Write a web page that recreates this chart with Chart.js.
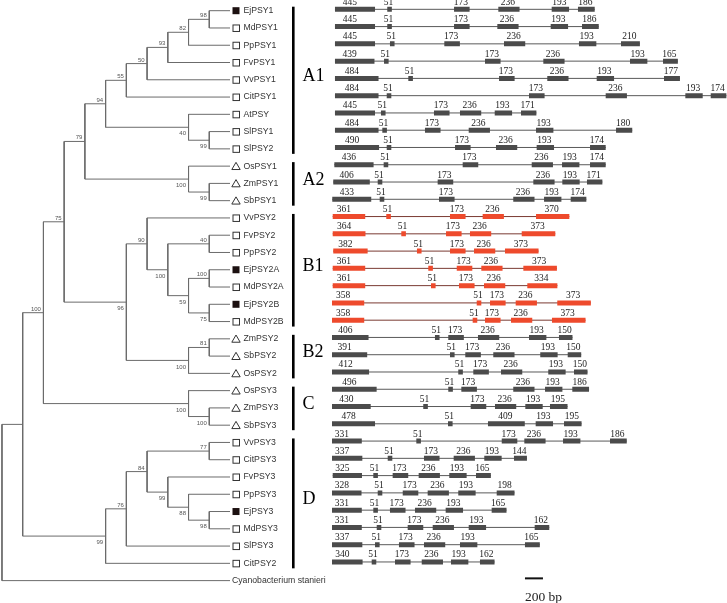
<!DOCTYPE html>
<html>
<head>
<meta charset="utf-8">
<script src="https://cdn.jsdelivr.net/npm/chart.js@4.4.1/dist/chart.umd.min.js"></script>
<style>
  html, body { margin:0; padding:0; background:#fff; }
  #wrap { width:727px; height:603px; position:relative; }
</style>
</head>
<body>
<div id="wrap"><canvas id="psy"></canvas></div>
<script>
'use strict';

// ---- data ----
const taxa = ['EjPSY1','MdPSY1','PpPSY1','FvPSY1','VvPSY1','CitPSY1','AtPSY','SlPSY1','SlPSY2',
  'OsPSY1','ZmPSY1','SbPSY1','VvPSY2','FvPSY2','PpPSY2','EjPSY2A','MdPSY2A','EjPSY2B','MdPSY2B',
  'ZmPSY2','SbPSY2','OsPSY2','OsPSY3','ZmPSY3','SbPSY3','VvPSY3','CitPSY3','FvPSY3','PpPSY3',
  'EjPSY3','MdPSY3','SlPSY3','CitPSY2','Cyanobacterium stanieri'];

// [child, child, bootstrap]
const tree = [
  [
    [
      [
        [
          [[[[['EjPSY1','MdPSY1',98],'PpPSY1',82],'FvPSY1',93],'VvPSY1',50],'CitPSY1',55],
          ['AtPSY',['SlPSY1','SlPSY2',99],40],
        94],
        ['OsPSY1',['ZmPSY1','SbPSY1',99],100],
      79],
      [
        ['VvPSY2',[['FvPSY2','PpPSY2',40],[['EjPSY2A','MdPSY2A',100],['EjPSY2B','MdPSY2B',75],59],100],90],
        [['ZmPSY2','SbPSY2',81],'OsPSY2',100],
      96],
    75],
    ['OsPSY3',['ZmPSY3','SbPSY3',100],100],
  100],
  [[[['VvPSY3','CitPSY3',77],['FvPSY3',['PpPSY3',['EjPSY3','MdPSY3',98],88],99],84],'SlPSY3',76],'CitPSY2',99],
null];
const rootTree = [tree, 'Cyanobacterium stanieri', null];

const loquatGenes = ['EjPSY1','EjPSY2A','EjPSY2B','EjPSY3'];
const monocotGenes = ['OsPSY1','ZmPSY1','SbPSY1','ZmPSY2','SbPSY2','OsPSY2','OsPSY3','ZmPSY3','SbPSY3'];

const groupNames = ['A1','A2','B1','B2','C','D'];
const groupFirst = ['EjPSY1','OsPSY1','VvPSY2','ZmPSY2','OsPSY3','VvPSY3'];
const groupLast  = ['SlPSY2','SbPSY1','MdPSY2B','OsPSY2','SbPSY3','CitPSY2'];
const highlightGroup = 'B1';

// exon sizes (bp), one row per gene in taxa order
const exonSizes = [
  [445,51,173,236,193,186], [445,51,173,236,193,186], [445,51,173,236,193,210],
  [439,51,173,236,193,165], [484,51,173,236,193,177], [484,51,173,236,193,174],
  [445,51,173,236,193,171], [484,51,173,236,193,180], [490,51,173,236,193,174],
  [436,51,173,236,193,174], [406,51,173,236,193,171], [433,51,173,236,193,174],
  [361,51,173,236,370], [364,51,173,236,373], [382,51,173,236,373],
  [361,51,173,236,373], [361,51,173,236,334], [358,51,173,236,373], [358,51,173,236,373],
  [406,51,173,236,193,150], [391,51,173,236,193,150], [412,51,173,236,193,150],
  [496,51,173,236,193,186], [430,51,173,236,193,195], [478,51,409,193,195],
  [331,51,173,236,193,186], [337,51,173,236,193,144], [325,51,173,236,193,165],
  [328,51,173,236,193,198], [331,51,173,236,193,165], [331,51,173,236,193,162],
  [337,51,173,236,193,165], [340,51,173,236,193,162]
];
// exon start positions (bp along the drawn gene axis)
const exonStarts = [
  [33,614,1356,1848,2441,2733], [33,614,1356,1837,2430,2778], [33,644,1248,1911,2744,3211],
  [33,578,1700,2348,3311,3678], [33,848,1856,2392,2941,3689], [33,608,2189,3041,3926,4208],
  [33,544,1133,1422,1808,2100], [33,559,1033,1519,2267,3156], [33,608,1367,1822,2274,2867],
  [26,574,1452,2219,2556,2867], [14,508,1174,2237,2559,2833], [3,530,1189,2014,2356,2652],
  [8,603,1311,1674,2267], [8,770,1267,1533,2108], [14,944,1311,1578,1922],
  [8,1070,1386,1659,2126], [8,1100,1411,1689,2170], [0,1608,1756,2041,2503], [0,1563,1700,1989,2444],
  [0,1144,1292,1622,2189,2522], [0,1311,1481,1792,2314,2619], [0,1403,1570,1878,2403,2689],
  [0,1292,1437,2014,2367,2670], [0,1014,1541,1811,2148,2422], [0,1289,1733,2263,2578],
  [0,937,1886,2137,2567,3089], [0,619,1022,1352,1692,2022], [8,459,674,963,1303,1600],
  [0,508,786,1063,1403,1830], [0,459,644,922,1263,1774], [0,497,841,1119,1519,2252],
  [0,478,744,1022,1422,2144], [0,441,700,997,1322,1644]
];
const scaleBarBp = 200;

// ---- layout constants ----
const W = 727, H = 603;
const TIP_PX = 230, STEP_PX = 20.73, ROW0_PX = 10.7, ROW_PX = 17.27;
const GENE0_PX = 332, PX_PER_BP = 0.09, GENE_ROW_SHIFT = -0.08;
const SCALEBAR_START = 2144, SCALEBAR_ROW = 32.87;

// ---- tree layout ----
const nodes = [], leaves = [];
function layout(n) {
  if (typeof n === 'string') {
    const leaf = { name:n, h:0, y:taxa.indexOf(n) };
    leaves.push(leaf);
    return leaf;
  }
  const a = layout(n[0]), b = layout(n[1]);
  a.first = true; b.first = false;
  const node = { h:Math.max(a.h, b.h) + 1, y:(a.y + b.y) / 2, support:n[2], kids:[a, b] };
  nodes.push(node);
  return node;
}
layout(rootTree);

const GAP = { x:0, y:null };
const treePts = [];
nodes.forEach(n => {
  const [a, b] = n.kids;
  treePts.push({x:a.h, y:a.y}, {x:n.h, y:a.y}, {x:n.h, y:b.y}, {x:b.h, y:b.y}, GAP);
});

// ---- gene structures ----
const gi = groupNames.indexOf(highlightGroup);
const hiFrom = taxa.indexOf(groupFirst[gi]), hiTo = taxa.indexOf(groupLast[gi]);
const exGrey = [], exRed = [], inGrey = [], inRed = [];
exonStarts.forEach((starts, r) => {
  const y = r + GENE_ROW_SHIFT;
  const red = r >= hiFrom && r <= hiTo;
  const sizes = exonSizes[r];
  const ex = red ? exRed : exGrey, intr = red ? inRed : inGrey;
  starts.forEach((s, k) => ex.push({x:s, y}, {x:s + sizes[k], y}, GAP));
  const last = starts.length - 1;
  intr.push({x:starts[0], y}, {x:starts[last] + sizes[last], y}, GAP);
});

const seg = (data, color, width, xAxisID, order) => ({
  data, showLine:true, borderColor:color, borderWidth:width, pointRadius:0, pointHoverRadius:0,
  borderCapStyle:'butt', borderJoinStyle:'miter', tension:0, fill:false, spanGaps:false,
  xAxisID, yAxisID:'y', order, clip:false
});

const textPlugin = {
  id:'psyText',
  afterDatasetsDraw(chart) {
    const ctx = chart.ctx, xs = chart.scales.x, ys = chart.scales.y, xg = chart.scales.xg;
    ctx.save();

    // bootstrap values
    ctx.fillStyle = '#555';
    ctx.font = '6px "Liberation Sans", Arial, sans-serif';
    ctx.textAlign = 'right';
    nodes.forEach(n => {
      if (n.support == null) return;
      const px = xs.getPixelForValue(n.h) - 2.5, py = ys.getPixelForValue(n.y);
      if (n.first) { ctx.textBaseline = 'alphabetic'; ctx.fillText(n.support, px, py - 2); }
      else { ctx.textBaseline = 'top'; ctx.fillText(n.support, px, py + 3.5); }
    });

    // tips: markers and names
    ctx.textAlign = 'left';
    ctx.textBaseline = 'middle';
    ctx.font = '8.7px "Liberation Sans", Arial, sans-serif';
    leaves.forEach(l => {
      const px = xs.getPixelForValue(0), py = ys.getPixelForValue(l.y);
      if (l.name.indexOf(' ') > 0) {
        ctx.fillStyle = '#333';
        ctx.fillText(l.name, px + 2, py);
        return;
      }
      ctx.strokeStyle = '#333'; ctx.lineWidth = 1;
      if (monocotGenes.includes(l.name)) {
        ctx.beginPath();
        ctx.moveTo(px + 6, py - 3.8); ctx.lineTo(px + 10.2, py + 3.4); ctx.lineTo(px + 1.8, py + 3.4);
        ctx.closePath(); ctx.stroke();
      } else if (loquatGenes.includes(l.name)) {
        ctx.fillStyle = '#1c1010';
        ctx.fillRect(px + 2.5, py - 3.5, 7, 7);
      } else {
        ctx.strokeRect(px + 3, py - 3, 6.5, 6.5);
      }
      ctx.fillStyle = '#333';
      ctx.fillText(l.name, px + 13.5, py);
    });

    // group bars and names
    ctx.fillStyle = '#000';
    ctx.font = '18px "Liberation Serif", "Times New Roman", serif';
    groupNames.forEach((g, i) => {
      const y1 = ys.getPixelForValue(taxa.indexOf(groupFirst[i])) - 4;
      const y2 = ys.getPixelForValue(taxa.indexOf(groupLast[i])) + 5;
      ctx.fillRect(292, y1, 2.6, y2 - y1);
      ctx.fillText(g, 302.5, (y1 + y2) / 2 - 4);
    });

    // exon sizes
    ctx.fillStyle = '#222';
    ctx.font = '9.5px "Liberation Serif", "Times New Roman", serif';
    ctx.textAlign = 'center';
    ctx.textBaseline = 'alphabetic';
    exonStarts.forEach((starts, r) => {
      const py = ys.getPixelForValue(r + GENE_ROW_SHIFT);
      starts.forEach((s, k) => {
        const size = exonSizes[r][k];
        const cx = xg.getPixelForValue(s + size / 2) + (k === 0 ? -5 : -1);
        ctx.fillText(size, cx, py - 4.5);
      });
    });

    // scale bar label
    ctx.textAlign = 'left';
    ctx.textBaseline = 'middle';
    ctx.font = '13.5px "Liberation Serif", "Times New Roman", serif';
    ctx.fillText(scaleBarBp + ' bp', xg.getPixelForValue(SCALEBAR_START), 597);
    ctx.restore();
  }
};

const hidden = (o) => Object.assign({ type:'linear', display:false, bounds:'data', grace:0 }, o);

new Chart(document.getElementById('psy'), {
  type:'scatter',
  data:{ datasets:[
    seg(treePts, '#6b6b6b', 1, 'x', 5),
    seg(inGrey, '#5a5a5a', 1, 'xg', 4),
    seg(inRed, '#7a3a32', 1, 'xg', 4),
    seg(exGrey, '#4b4b4b', 5, 'xg', 1),
    seg(exRed, '#ee4a2c', 5, 'xg', 1),
    seg([{x:SCALEBAR_START, y:SCALEBAR_ROW}, {x:SCALEBAR_START + scaleBarBp, y:SCALEBAR_ROW}], '#111', 2, 'xg', 1),
  ]},
  options:{
    responsive:true, maintainAspectRatio:false, animation:false, events:[],
    layout:{ padding:0 },
    plugins:{ legend:{ display:false }, tooltip:{ enabled:false } },
    scales:{
      x: hidden({ reverse:true, min:TIP_PX / STEP_PX - W / STEP_PX, max:TIP_PX / STEP_PX }),
      xg: hidden({ axis:'x', min:-GENE0_PX / PX_PER_BP, max:(W - GENE0_PX) / PX_PER_BP }),
      y: hidden({ reverse:true, min:-ROW0_PX / ROW_PX, max:(H - ROW0_PX) / ROW_PX }),
    },
  },
  plugins:[textPlugin],
});
</script>
</body>
</html>
